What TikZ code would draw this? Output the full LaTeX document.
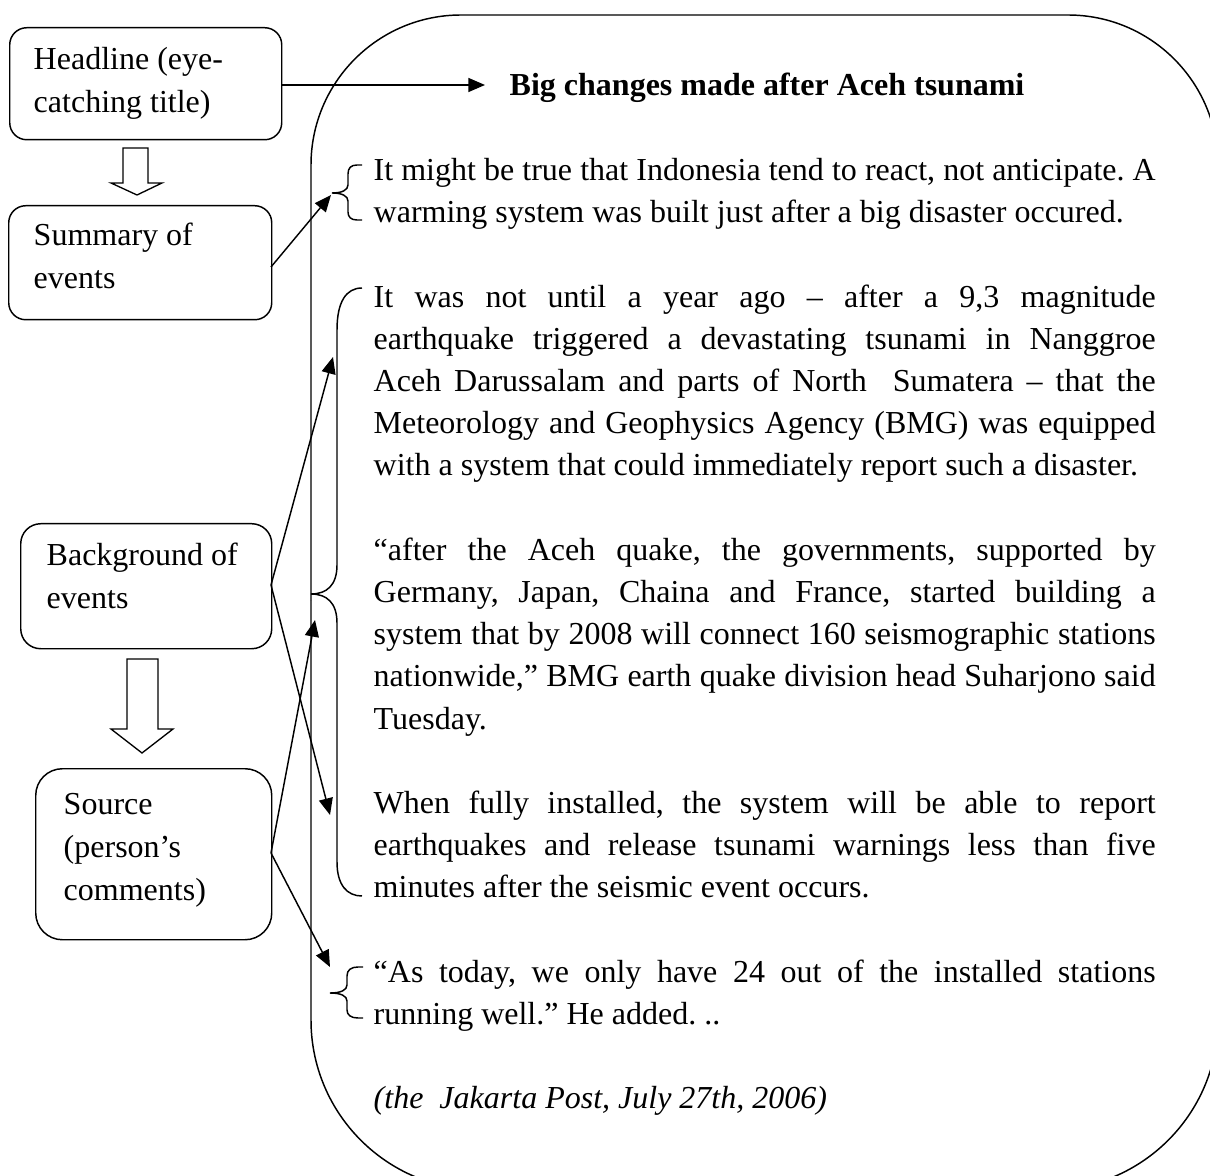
\documentclass[tikz,border=0pt]{standalone}
\usepackage{fontspec}
\setmainfont{Liberation Serif}
\usetikzlibrary{arrows.meta}
\hyphenpenalty=10000
\exhyphenpenalty=10000
\frenchspacing
\begin{document}
\begin{tikzpicture}[x=0.75pt,y=-0.75pt,line width=1.1pt,line join=miter,
  box/.style={draw, anchor=north west, inner sep=0pt, rounded corners=#1},
  txt/.style={anchor=base west, inner sep=0pt, font={\fontsize{24}{31.65}\selectfont\frenchspacing}},
  para/.style={txt, text width=586.5pt, align=justify},
  boxtxt/.style={txt, text width=200pt, align=flush left, font={\fontsize{24}{32.2}\selectfont\frenchspacing}},
  arr/.style={-{Triangle[length=12.5pt,width=10.5pt]}},
  bracepath/.style={line width=1.1pt}]
\useasboundingbox (0,0) rectangle (1210,1176);
\clip (0,0) rectangle (1210,1176);
\fill[white] (0,0) rectangle (1210,1176);

% big rounded frame
\draw[rounded corners=112.5pt] (311,600) -- (311,15) -- (1218,15) -- (1218,600);
\draw[rounded corners=127.5pt] (311,600) -- (311,1190) -- (1218,1190) -- (1218,600);

% left boxes
\node[box=12.75pt, minimum width=204pt, minimum height=84pt] (hb) at (9,27) {};
\node[box=12.75pt, minimum width=197.25pt, minimum height=85.5pt] (sb) at (8,205) {};
\node[box=15pt, minimum width=188.25pt, minimum height=93.75pt] (bb) at (20,523) {};
\node[box=20pt, minimum width=177pt, minimum height=128.25pt] (cb) at (35,768) {};

\node[boxtxt] (ht) at (33,69.5) {Headline (eye-\\catching title)};
\node[boxtxt] (st) at (33,245.5) {Summary of\\events};
\node[boxtxt] (bt) at (46,565.5) {Background of\\events};
\node[boxtxt] (ct) at (63,814.5) {Source\\(person’s\\comments)};

% hollow block arrows
\draw[line width=1pt] (123,148) -- (148,148) -- (148,183) -- (162,183) -- (137,195) -- (111,183) -- (123,183) -- cycle;
\draw[line width=1pt] (127,659) -- (158,659) -- (158,729) -- (173,729) -- (142,753) -- (111,729) -- (127,729) -- cycle;

% texts on the right
\node[txt, font={\fontsize{24}{31.65}\selectfont\bfseries}] (title) at (509,96) {Big changes made after Aceh tsunami};

\node[para] (p1) at (373,180.5) {It might be true that Indonesia tend to react, not anticipate. A\linebreak warming system was built just after a big disaster occured.};

\node[para] (p2) at (373,307.1) {It was not until a year ago – after a 9,3 magnitude\linebreak earthquake triggered a devastating tsunami in Nanggroe\linebreak Aceh Darussalam and parts of North\ \ Sumatera – that the\linebreak Meteorology and Geophysics Agency (BMG) was equipped\linebreak with a system that could immediately report such a disaster.};

\node[para] (p3) at (373,560.3) {“after the Aceh quake, the governments, supported by\linebreak Germany, Japan, Chaina and France, started building a\linebreak system that by 2008 will connect 160 seismographic stations\linebreak nationwide,” BMG earth quake division head Suharjono said\linebreak Tuesday.};

\node[para] (p4) at (373,813.5) {When fully installed, the system will be able to report\linebreak earthquakes and release tsunami warnings less than five\linebreak minutes after the seismic event occurs.};

\node[para] (p5) at (373,982.3) {“As today, we only have 24 out of the installed stations\linebreak running well.” He added. ..};

\node[txt, font={\fontsize{24}{31.65}\selectfont\itshape}] (cite) at (373,1108.9) {(the\ \ Jakarta Post, July 27th, 2006)};

% braces
\coordinate (b1) at (332,193);
\coordinate (b2) at (311,594);
\coordinate (b3) at (330,993);
\draw[bracepath] (362,165) -- (357,165) .. controls (351,165) and (348,168) .. (348,174) -- (348,185) .. controls (348,190) and (342,193) .. (b1)
  .. controls (342,193) and (348,196) .. (348,201) -- (348,212) .. controls (348,217) and (351,220) .. (357,220) -- (362,220);
\draw[bracepath] (362,288) .. controls (346,288) and (337,302) .. (337,330) -- (337,565) .. controls (337,585) and (327,594) .. (b2)
  .. controls (327,594) and (337,603) .. (337,623) -- (337,862) .. controls (337,885) and (347,896) .. (362,896);
\draw[bracepath] (363,967) -- (358,967) .. controls (351,967) and (347,970) .. (347,976) -- (347,985) .. controls (347,990) and (341,993) .. (b3)
  .. controls (341,993) and (347,996) .. (347,1001) -- (347,1010) .. controls (347,1015) and (351,1018) .. (358,1018) -- (363,1018);

% arrow tips
\coordinate (ta) at (485,85);
\coordinate (t2) at (331,195);
\coordinate (t3) at (333,357);
\coordinate (t4) at (330,815);
\coordinate (t5) at (315,620);
\coordinate (t6) at (330,967);
\coordinate (sbo) at (271,267);
\coordinate (bbo) at (271,585);
\coordinate (cbo) at (271,853);

\draw[arr] (hb.east |- ta) -- (ta);
\draw[arr] (sbo) -- (t2);
\draw[arr] (bbo) -- (t3);
\draw[arr] (bbo) -- (t4);
\draw[arr] (cbo) -- (t5);
\draw[arr] (cbo) -- (t6);
\end{tikzpicture}
\end{document}
